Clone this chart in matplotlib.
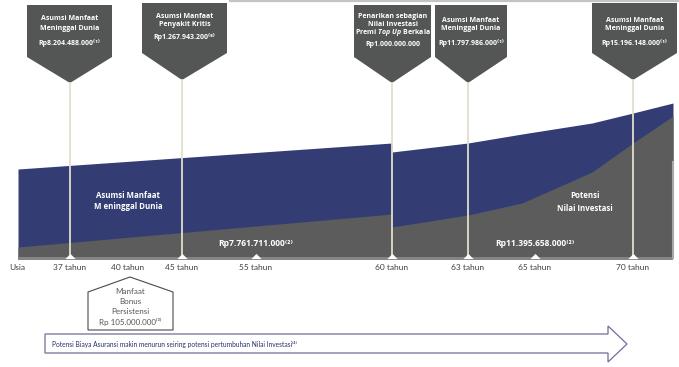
import numpy as np
import matplotlib.pyplot as plt
from matplotlib.patches import Polygon, Rectangle

plt.rcParams['font.family'] = ['Lato', 'DejaVu Sans']
plt.rcParams['mathtext.fontset'] = 'custom'
plt.rcParams['mathtext.it'] = 'Open Sans:italic:bold'
plt.rcParams['mathtext.rm'] = 'Open Sans:bold'
BOLD = ['Open Sans', 'DejaVu Sans']

# ages on the time line and where they sit (the original is not to scale)
ages = [37, 40, 45, 55, 60, 63, 65, 70]
age_x = [70, 128, 182, 256, 392, 468, 535, 633]
marked_ages = [37, 45, 55, 60, 63, 65, 70]

# outline of the two areas: position and height above the time line
area_x = [18, 392, 392, 468, 522, 592, 633, 673]
benefit_h = [89, 115, 106, 115, 124, 135, 145, 155]
invest_h = [11, 44, 31, 43, 55, 86, 115, 142]

# callouts above the chart
callout_ages = [37, 45, 60, 63, 70]
callout_text = [
    ['Asumsi Manfaat', 'Meninggal Dunia', 'Rp8.204.488.000⁽¹⁾'],
    ['Asumsi Manfaat', 'Penyakit Kritis', 'Rp1.267.943.200⁽⁵⁾'],
    ['Penarikan sebagian', 'Nilai Investasi', r'Premi $\mathit{Top\ Up}$ Berkala', 'Rp1.000.000.000'],
    ['Asumsi Manfaat', 'Meninggal Dunia', 'Rp11.797.986.000⁽¹⁾'],
    ['Asumsi Manfaat', 'Meninggal Dunia', 'Rp15.196.148.000⁽¹⁾'],
]

benefit_label = 'Asumsi Manfaat\nM eninggal Dunia'
invest_label = 'Potensi\nNilai Investasi'
invest_values = ['Rp7.761.711.000⁽²⁾', 'Rp11.395.658.000⁽²⁾']
invest_value_ages = [55, 65]
bonus_text = ['Manfaat', 'Bonus', 'Persistensi', 'Rp 105.000.000⁽³⁾']
arrow_text = 'Potensi Biaya Asuransi makin menurun seiring potensi pertumbuhan Nilai Investasi⁽⁴⁾'

W, H = 679, 367
BASE = 258  # pixel row of the time line


def py(row):
    return BASE - row


fig = plt.figure(figsize=(W / 100, H / 100), dpi=100)
ax = fig.add_axes([0, 0, 1, 1])
ax.set_xlim(0, W)
ax.set_ylim(BASE - H, BASE)
ax.axis('off')

blue = '#333d74'
grey = '#5b5c5b'
box_grey = '#545555'
stem = '#e2decc'

ax.fill_between(area_x, 0, benefit_h, color=blue, lw=0, zorder=1)
ax.fill_between(area_x, 0, invest_h, color=grey, lw=0, zorder=2)
ax.add_patch(Rectangle((area_x[0], -2), area_x[-1] - area_x[0], 3, color='#858585', lw=0, zorder=3))
ax.plot([area_x[-1], area_x[-1]], [0, py(162)], color='#a8a8a8', lw=1.5, zorder=3)

# top border line
ax.plot([230, W], [py(0.8), py(0.8)], color='#c4c4c4', lw=1.6, zorder=1)

pos = dict(zip(ages, age_x))

# callouts: left, right, top, bottom of box, tip
geom = [(27, 112, 5, 57, 83), (142, 227, 3, 53, 80), (354, 431, 5, 57, 83),
        (435, 507, 5, 57, 83), (592, 677, 3, 53, 80)]
rows = [[19, 29, 43], [16, 25, 37], [16, 24.5, 33, 44], [20, 29, 43], [20, 29, 43]]
for a, g, lines, r in zip(callout_ages, geom, callout_text, rows):
    x = pos[a]
    l, rgt, top, bot, tip = g
    ax.add_patch(Polygon([(l, py(top)), (rgt, py(top)), (rgt, py(bot)), (x, py(tip)), (l, py(bot))],
                         closed=True, facecolor=box_grey, edgecolor='none', zorder=4))
    ax.plot([x, x], [py(tip), 0], color=stem, lw=1.3, zorder=5)
    for t, rr in zip(lines, r):
        ax.text((l + rgt) / 2, py(rr), t, ha='center', va='center', fontsize=5.0,
                family=BOLD, fontweight='bold', color='white', zorder=6)

# triangles on the time line
tri = [(-1, -0.5), (1, -0.5), (0, 0.5)]
ax.scatter([pos[a] for a in marked_ages], [py(255.5)] * len(marked_ages), marker=tri,
           s=55, color='white', lw=0, zorder=7)

# age labels
ax.text(17, py(268), 'Usia', ha='center', va='center', fontsize=6, color='#3f3f3f')
for a, x in zip(ages, age_x):
    ax.text(x, py(268), f'{a} tahun', ha='center', va='center', fontsize=6, color='#3f3f3f')

# labels inside the areas
ax.text(128, py(201), benefit_label, ha='center', va='center', fontsize=5.7, family=BOLD,
        fontweight='bold', color='white', linespacing=1.35, zorder=6)
ax.text(585, py(202), invest_label, ha='center', va='center', fontsize=5.7, family=BOLD,
        fontweight='bold', color='white', linespacing=1.45, zorder=6)
for a, t in zip(invest_value_ages, invest_values):
    ax.text(pos[a], py(243), t, ha='center', va='center', fontsize=6.1, family=BOLD,
            fontweight='bold', color='white', zorder=6)

# bonus box
bx = pos[40]
ax.add_patch(Polygon([(88, py(330)), (88, py(292)), (bx + 2, py(277)), (173, py(292)), (173, py(330))],
                     closed=True, facecolor='white', edgecolor='#4a4a4a', lw=0.8, zorder=4))
for t, rr in zip(bonus_text, [292, 302, 312, 322]):
    ax.text(bx + 2, py(rr), t, ha='center', va='center', fontsize=5.8, color='#555555', zorder=6)

# arrow along the bottom
ax.add_patch(Polygon([(45, py(334)), (608, py(334)), (608, py(326)), (627, py(344)),
                      (608, py(362)), (608, py(353)), (45, py(353))],
                     closed=True, facecolor='white', edgecolor='#6d7097', lw=0.9, zorder=3))
ax.text(52, py(344), arrow_text, ha='left', va='center', fontsize=4.8, color='#2a2f6a', zorder=6)

fig.savefig('out.png', dpi=100)
